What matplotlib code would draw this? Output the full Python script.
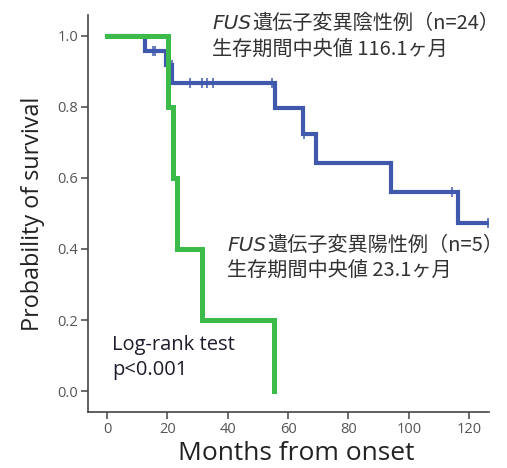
import matplotlib
matplotlib.use("Agg")
from matplotlib import pyplot as plt
import numpy as np

# step curves (months, survival)
neg_t = [0, 12.6, 19.6, 21.6, 55.8, 65.1, 69.4, 94.0, 116.3, 126.3]
neg_s = [1.0, 0.958, 0.917, 0.868, 0.797, 0.724, 0.642, 0.56, 0.473, 0.473]
neg_cens = [15.3, 15.9, 21.5, 27.5, 31.5, 33.2, 35.2, 54.7, 65.2, 114.5, 126.3]

pos_t = [0, 20.2, 21.9, 23.2, 31.5, 55.2]
pos_s = [1.0, 0.8, 0.6, 0.4, 0.2, 0.0]

xticks = [0, 20, 40, 60, 80, 100, 120]
yticks = [0.0, 0.2, 0.4, 0.6, 0.8, 1.0]

blue = "#4059AD"
green = "#3DBB4A"
txt = "#333333"

plt.rcParams['font.family'] = ['Open Sans', 'Noto Sans CJK JP', 'DejaVu Sans']

fig = plt.figure(figsize=(5.07, 4.68), dpi=100)
ax = fig.add_axes([0.1736, 0.1197, 0.7909, 0.8483])


def level(t, times, surv):
    i = np.searchsorted(times, t, side="right") - 1
    return surv[i]


ax.plot(neg_t, neg_s, drawstyle="steps-post", color=blue, lw=3.0,
        solid_joinstyle="miter")
cy = [level(t, neg_t, neg_s) for t in neg_cens]
ax.plot(neg_cens, cy, ls="none", marker="|", ms=7, mew=1.1, color=blue)

ax.plot(pos_t, pos_s, drawstyle="steps-post", color=green, lw=3.6,
        solid_joinstyle="miter")

ax.set_xlim(-6.3, 126.6)
ax.set_ylim(-0.059, 1.059)
ax.set_xticks(xticks)
ax.set_yticks(yticks)
ax.set_yticklabels([f"{v:.1f}" for v in yticks])
for s in ["top", "right"]:
    ax.spines[s].set_visible(False)
for s in ["left", "bottom"]:
    ax.spines[s].set_color("#444444")
    ax.spines[s].set_linewidth(1.2)
ax.tick_params(colors="#444444", labelcolor="#555555", labelsize=10.5,
               length=5, width=1.1, pad=2)

ax.set_ylabel("Probability of survival", fontsize=16.8, color="#222222",
              labelpad=9)
ax.set_xlabel("Months from onset", fontsize=19, color="#222222")
ax.xaxis.set_label_coords(0.52, -0.073)


def label(x, y, rest, line2):
    t1 = ax.text(x, y, "FUS", style="italic", fontsize=14.5, color=txt,
                 va="center", ha="left", family=['DejaVu Sans'])
    ax.annotate(rest, xy=(1, 0.5), xycoords=t1, va="center", ha="left",
                fontsize=14.5, color=txt,
                family=['Noto Sans CJK JP', 'DejaVu Sans'])
    ax.text(x - 0.3, y - 0.071, line2, fontsize=14.5, color=txt,
            va="center", ha="left",
            family=['Noto Sans CJK JP', 'DejaVu Sans'])


label(35.0, 1.034, "遺伝子変異陰性例（n=24）", "生存期間中央値 116.1ヶ月")
label(40.0, 0.411, "遺伝子変異陽性例（n=5）", "生存期間中央値 23.1ヶ月")

ax.text(1.7, 0.13, "Log-rank test", fontsize=14.5, color="#1c1c2c",
        va="center", ha="left")
ax.text(1.7, 0.058, "p<0.001", fontsize=14.5, color="#1c1c2c",
        va="center", ha="left")

fig.savefig("out.png", dpi=100)
